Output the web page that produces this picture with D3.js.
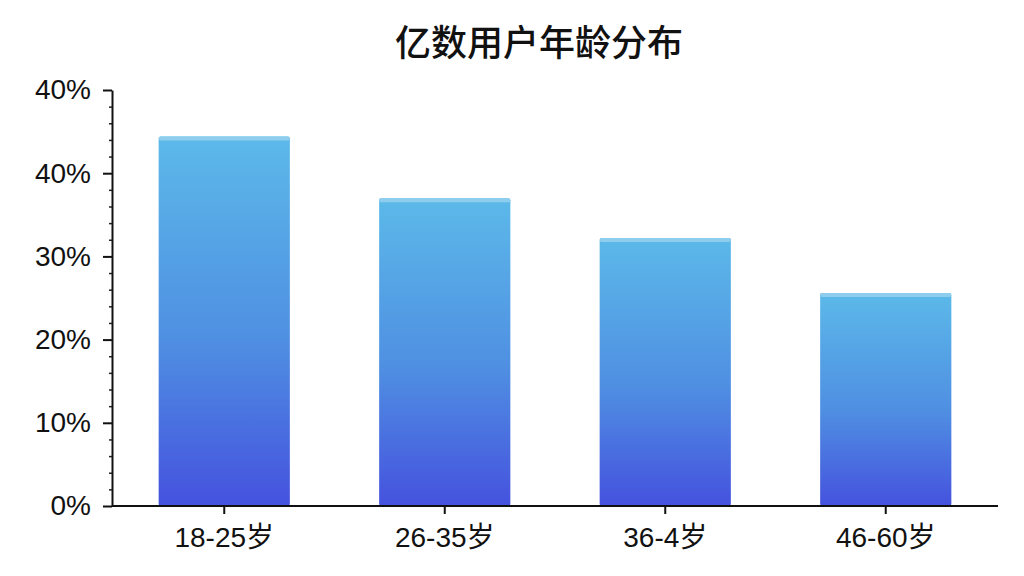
<!DOCTYPE html>
<html>
<head>
<meta charset="utf-8">
<script src="https://cdn.jsdelivr.net/npm/d3@7"></script>
<style>
  body { margin: 0; background: #fff; }
  svg text { fill: #111; }
</style>
</head>
<body>
<svg id="chart" width="1024" height="576"></svg>
<script>
// data
const categories = ['18-25岁', '26-35岁', '36-4岁', '46-60岁'];
const shares = [44.4, 37.0, 32.2, 25.6];
const yTicks = [0, 10, 20, 30, 40, 50];
const yTickLabels = ['0%', '10%', '20%', '30%', '40%', '40%']; // top label reads 40% in the original
const title = '亿数用户年龄分布';

const svg = d3.select('#chart');
const font = '"Liberation Sans", "Noto Sans CJK SC", Arial, sans-serif';

const x = d3.scaleBand()
    .domain(categories)
    .range([114, 996])
    .paddingInner(0.405)
    .paddingOuter(0.2025);

const y = d3.scaleLinear()
    .domain([0, 50])
    .range([506, 90]);

// gradient, light sky blue at top to indigo at bottom
const defs = svg.append('defs');
const grad = defs.append('linearGradient')
    .attr('id', 'barGrad')
    .attr('x1', 0).attr('y1', 0).attr('x2', 0).attr('y2', 1);
grad.append('stop').attr('offset', '0%').attr('stop-color', '#5cb9e9');
grad.append('stop').attr('offset', '55%').attr('stop-color', '#4f8fe2');
grad.append('stop').attr('offset', '100%').attr('stop-color', '#4552de');

// title
svg.append('text')
    .attr('x', 539)
    .attr('y', 56)
    .attr('text-anchor', 'middle')
    .style('font-family', '"Noto Sans CJK SC", sans-serif')
    .style('font-size', '36px')
    .style('font-weight', 500)
    .text(title);

// bars
const bars = svg.append('g');
bars.selectAll('rect.bar')
    .data(shares)
    .enter()
    .append('rect')
    .attr('class', 'bar')
    .attr('x', (d, i) => x(categories[i]))
    .attr('y', d => y(d))
    .attr('width', x.bandwidth())
    .attr('height', d => y(0) - y(d))
    .attr('rx', 2)
    .attr('fill', 'url(#barGrad)');

// lighter cap along each bar top
bars.selectAll('rect.cap')
    .data(shares)
    .enter()
    .append('rect')
    .attr('class', 'cap')
    .attr('x', (d, i) => x(categories[i]))
    .attr('y', d => y(d))
    .attr('width', x.bandwidth())
    .attr('height', 4)
    .attr('rx', 2)
    .attr('fill', '#8fcdee');

// minor ticks on y axis (every 2%)
const minor = svg.append('g')
    .attr('transform', 'translate(112,0)')
    .call(d3.axisLeft(y).tickValues(d3.range(0, 51, 2).filter(v => v % 10 !== 0)).tickSize(3).tickFormat(''));
minor.select('.domain').remove();
minor.selectAll('line').attr('stroke', '#222').attr('stroke-width', 1.5);

// y axis
const yAxis = svg.append('g')
    .attr('transform', 'translate(112,0)')
    .call(d3.axisLeft(y)
        .tickValues(yTicks)
        .tickSize(9)
        .tickSizeOuter(0)
        .tickPadding(12)
        .tickFormat((d, i) => yTickLabels[i]));
yAxis.select('.domain').attr('stroke', '#111').attr('stroke-width', 2);
yAxis.selectAll('line').attr('stroke', '#111').attr('stroke-width', 2);
yAxis.selectAll('text')
    .style('font-family', font)
    .style('font-size', '28px')
    .attr('fill', '#111');

// x axis
const xAxis = svg.append('g')
    .attr('transform', `translate(0,${y(0)})`)
    .call(d3.axisBottom(x).tickSize(8).tickSizeOuter(0).tickPadding(13));
xAxis.select('.domain')
    .attr('d', `M112,0H998`)
    .attr('stroke', '#111').attr('stroke-width', 2);
xAxis.selectAll('line').attr('stroke', '#111').attr('stroke-width', 2);
xAxis.selectAll('text')
    .style('font-family', font)
    .style('font-size', '28px')
    .attr('fill', '#111');
</script>
</body>
</html>
